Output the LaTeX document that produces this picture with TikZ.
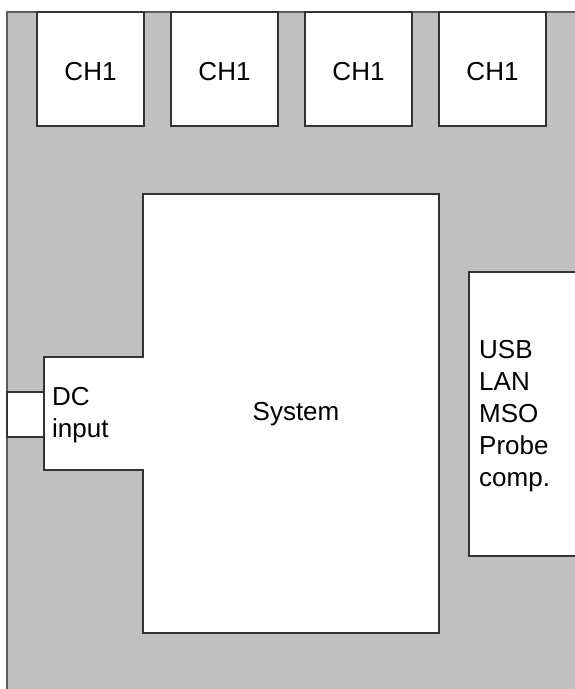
\documentclass[tikz,border=0pt]{standalone}
\usepackage{fontspec}
\setmainfont{Liberation Sans}
\definecolor{panel}{HTML}{C0C0C0}
\definecolor{edge}{HTML}{333333}
\tikzset{
  box/.style={draw=edge, line width=1.4pt, fill=white},
  lbl/.style={font=\fontsize{26}{32}\selectfont, text=black, inner sep=0pt},
}
\begin{document}
\begin{tikzpicture}[x=1pt,y=-1pt]
\useasboundingbox (0,0) rectangle (574,689);
\fill[white] (0,0) rectangle (574,689);
\fill[panel] (7,12) rectangle (576,691);
\draw[edge!80, line width=1.2pt] (7,691) -- (7,12) -- (576,12);
% channel boxes
\foreach \i/\x in {1/37,2/171,3/305,4/439}{
  \draw[box] (\x,12) rectangle ++(107,114);
  \node[lbl] (ch\i) at (\x+53.5,72) {CH1};
}
% DC connector
\draw[box] (7,392) rectangle (44,437);
% system
\draw[box] (143,194) -- (439,194) -- (439,633) -- (143,633) -- (143,470) -- (44,470) -- (44,357) -- (143,357) -- cycle;
\node[lbl] (sys) at (296,414) {System};
\node[lbl, anchor=west, align=left] (dc) at (52,415) {DC\\input};
% IO box
\draw[box] (576,272) -- (469,272) -- (469,556) -- (576,556);
\node[lbl, anchor=west, align=left] (io) at (479,416) {USB\\LAN\\MSO\\Probe\\comp.};
\end{tikzpicture}
\end{document}
